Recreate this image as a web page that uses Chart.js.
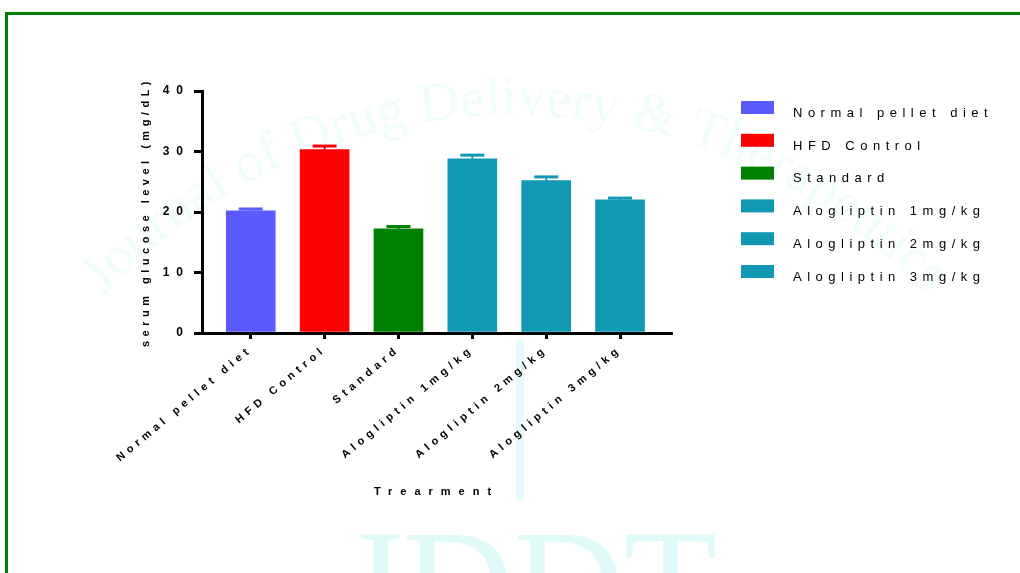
<!DOCTYPE html>
<html>
<head>
<meta charset="utf-8">
<title>Serum glucose</title>
<script src="https://cdn.jsdelivr.net/npm/chart.js@4/dist/chart.umd.min.js"></script>
<style>
  html, body { margin: 0; padding: 0; background: #fff; }
  #wrap { position: relative; width: 1020px; height: 573px; overflow: hidden; }
  #frame { position: absolute; left: 5px; top: 12px; width: 1100px; height: 700px;
           border-top: 3px solid #008000; border-left: 3px solid #008000; }
  #canvas { position: absolute; left: 0; top: 0; }
</style>
</head>
<body>
<div id="wrap">
  <div id="frame"></div>
  <canvas id="canvas" width="1020" height="573"></canvas>
</div>
<script>
const categories = [
    'Normal pellet diet',
    'HFD Control',
    'Standard',
    'Alogliptin 1mg/kg',
    'Alogliptin 2mg/kg',
    'Alogliptin 3mg/kg'
];
const glucose = [20.2, 30.3, 17.2, 28.8, 25.2, 22.0];
const sem = [0.3, 0.6, 0.4, 0.6, 0.6, 0.3];
const barColors = ['#5a5aff', '#ff0000', '#008000', '#1199b4', '#1199b4', '#1199b4'];
const yTicks = [0, 10, 20, 30, 40];

const FONT = "'Liberation Sans', Arial, sans-serif";
const SERIF = "'Liberation Serif', 'Times New Roman', serif";

// wrap a scale draw method so its text gets extra letter spacing
function spaced(fn, px) {
    return function () {
        const ctx = this.ctx;
        ctx.save();
        ctx.letterSpacing = px + 'px';
        fn.apply(this, arguments);
        ctx.restore();
    };
}

const letterSpacing = {
    id: 'letterSpacing',
    beforeDraw(chart) {
        const set = { x: [4.5, 8], y: [7, 4.5] };
        Object.keys(set).forEach(id => {
            const s = chart.scales[id];
            if (!s || s._spaced) return;
            s.drawLabels = spaced(s.drawLabels, set[id][0]);
            s.drawTitle = spaced(s.drawTitle, set[id][1]);
            s._spaced = true;
        });
    }
};

// journal watermark behind the plot
const watermark = {
    id: 'watermark',
    beforeDraw(chart) {
        const ctx = chart.ctx;
        ctx.save();
        ctx.fillStyle = 'rgba(0, 205, 205, 0.055)';
        ctx.font = '56px ' + SERIF;
        ctx.textAlign = 'center';
        const text = 'Journal of Drug Delivery & Therapeutics';
        const cx = 515, cy = 675, r = 560;
        const total = ctx.measureText(text).width;
        let a = -Math.PI / 2 - total / r / 2;
        for (const ch of text) {
            const w = ctx.measureText(ch).width;
            const mid = a + w / r / 2;
            ctx.save();
            ctx.translate(cx + r * Math.cos(mid), cy + r * Math.sin(mid));
            ctx.rotate(mid + Math.PI / 2);
            ctx.fillText(ch, 0, 0);
            ctx.restore();
            a += w / r;
        }
        ctx.fillStyle = 'rgba(0, 210, 210, 0.1)';
        ctx.fillRect(516, 340, 8, 160);
        ctx.fillStyle = 'rgba(0, 210, 210, 0.12)';
        ctx.textAlign = 'left';
        ctx.font = '153px ' + SERIF;
        ctx.fillText('JDDT', 343, 635);
        ctx.restore();
    }
};

// upper SEM whisker with cap, same colour as the bar
const errorBars = {
    id: 'errorBars',
    afterDatasetsDraw(chart) {
        const { ctx, scales: { x, y } } = chart;
        ctx.save();
        glucose.forEach((v, i) => {
            const cx = x.getPixelForValue(i);
            const base = y.getPixelForValue(v);
            const top = y.getPixelForValue(v + sem[i]);
            ctx.strokeStyle = barColors[i];
            ctx.lineWidth = 2;
            ctx.beginPath();
            ctx.moveTo(cx, base);
            ctx.lineTo(cx, top);
            ctx.stroke();
            ctx.lineWidth = 3;
            ctx.beginPath();
            ctx.moveTo(cx - 12, top);
            ctx.lineTo(cx + 12, top);
            ctx.stroke();
        });
        ctx.restore();
    }
};

// legend on the right, one entry per bar
const legendBoxes = {
    id: 'legendBoxes',
    afterDraw(chart) {
        const ctx = chart.ctx;
        ctx.save();
        ctx.font = '13px ' + FONT;
        ctx.letterSpacing = '5.5px';
        ctx.textBaseline = 'alphabetic';
        categories.forEach((c, i) => {
            const y = 101 + i * 32.8;
            ctx.fillStyle = barColors[i];
            ctx.fillRect(741, y, 33, 13);
            ctx.fillStyle = '#000';
            ctx.fillText(c, 793, y + 15.7);
        });
        ctx.restore();
    }
};

const config = {
    type: 'bar',
    data: {
        datasets: [{
            data: categories.map((c, i) => ({ x: i, y: glucose[i] })),
            backgroundColor: barColors,
            borderWidth: 0,
            barThickness: 49
        }]
    },
    options: {
        responsive: false,
        animation: false,
        devicePixelRatio: 1,
        layout: { padding: { left: 130, top: 91, right: 349, bottom: 60 } },
        plugins: {
            legend: { display: false },
            tooltip: { enabled: false }
        },
        scales: {
            x: {
                type: 'linear',
                min: -0.66,
                max: 5.69,
                offset: false,
                afterBuildTicks: s => { s.ticks = categories.map((c, i) => ({ value: i })); },
                afterFit: s => { s.height = 180; },
                grid: { offset: false, drawOnChartArea: false, tickLength: 6, color: '#000', lineWidth: 3 },
                border: { color: '#000', width: 3 },
                ticks: {
                    autoSkip: false,
                    minRotation: 40,
                    maxRotation: 40,
                    padding: 4,
                    color: '#000',
                    font: { family: FONT, size: 11, weight: 'bold' },
                    callback: v => categories[v]
                },
                title: {
                    display: true,
                    text: 'Trearment',
                    color: '#000',
                    font: { family: FONT, size: 11, weight: 'bold' },
                    padding: { top: 0, bottom: 14 }
                }
            },
            y: {
                min: 0,
                max: 40,
                afterBuildTicks: s => { s.ticks = yTicks.map(v => ({ value: v })); },
                afterFit: s => { s.width = 72; },
                grid: { drawOnChartArea: false, tickLength: 8, color: '#000', lineWidth: 3 },
                border: { color: '#000', width: 3 },
                ticks: {
                    padding: 4,
                    color: '#000',
                    font: { family: FONT, size: 12, weight: 'bold' }
                },
                title: {
                    display: true,
                    text: 'serum glucose level (mg/dL)',
                    color: '#000',
                    font: { family: FONT, size: 11, weight: 'bold' },
                    padding: { top: 9, bottom: 0 }
                }
            }
        }
    },
    plugins: [watermark, letterSpacing, errorBars, legendBoxes]
};

const myChart = new Chart(document.getElementById('canvas'), config);
</script>
</body>
</html>
